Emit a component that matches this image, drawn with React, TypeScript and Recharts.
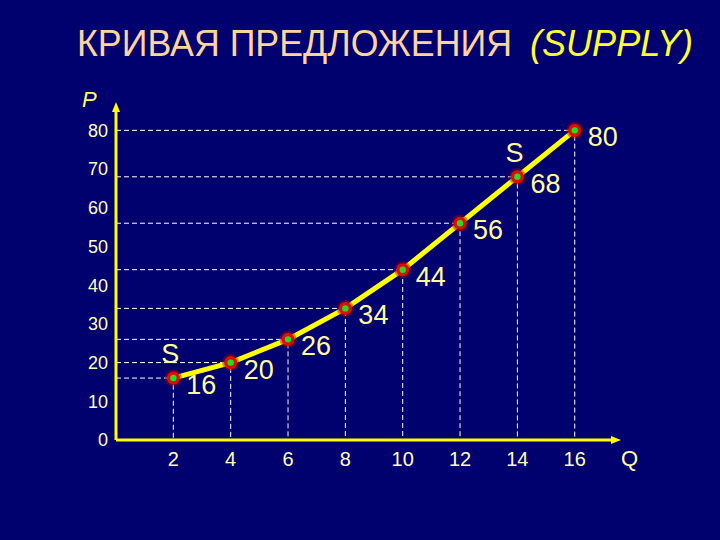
import { LineChart, Line, XAxis, YAxis, LabelList } from "recharts";

// supply schedule
const QUANTITY = [2, 4, 6, 8, 10, 12, 14, 16];
const PRICE = [16, 20, 26, 34, 44, 56, 68, 80];
const X_TICKS = [2, 4, 6, 8, 10, 12, 14, 16];
const Y_TICKS = [0, 10, 20, 30, 40, 50, 60, 70, 80];
const S_LABEL_POINTS = [0, 6];

const BG = "#00006e";
const YELLOW = "#ffff00";
const LABEL = "#ffff99";
const TICK = "#ffffc4";

const supply = QUANTITY.map((q, i) => ({ q, p: PRICE[i] }));

// dashed drop lines from every point to both axes
const guides = supply.map((d) => [
  { q: 0, p: d.p },
  { q: d.q, p: d.p },
  { q: d.q, p: 0 },
]);

const Dot = (props: any) => {
  const { cx, cy } = props;
  if (cx == null || cy == null) return null;
  return (
    <g>
      <circle cx={cx} cy={cy} r={8.5} fill="#b00000" opacity={0.45} />
      <circle cx={cx} cy={cy} r={6.5} fill="#d81000" />
      <circle cx={cx} cy={cy} r={3.2} fill="#22dd22" />
    </g>
  );
};

const ValueLabel = (props: any) => {
  const { x, y, value, index } = props;
  return (
    <g>
      <text x={x + 13} y={y + 16} fill={LABEL} fontSize={27} fontFamily="Liberation Sans, Arial, sans-serif">
        {value}
      </text>
      {S_LABEL_POINTS.includes(index) && (
        <text x={x - 3} y={y - 15} fill={LABEL} fontSize={27} textAnchor="middle" fontFamily="Liberation Sans, Arial, sans-serif">
          S
        </text>
      )}
    </g>
  );
};

export default function App() {
  return (
    <div style={{ position: "absolute", left: 0, top: 0, width: 720, height: 540, background: BG }}>
      <svg width={720} height={540} style={{ position: "absolute", left: 0, top: 0, pointerEvents: "none" }}>
        <defs>
          <marker id="arrow" viewBox="0 0 10 8" markerWidth={10} markerHeight={8} refX={1} refY={4} markerUnits="userSpaceOnUse" orient="auto-start-reverse">
            <path d="M0,0 L10,4 L0,8 z" fill={YELLOW} />
          </marker>
        </defs>
        <text x={77} y={56} fill="#ffd49e" fontSize={36} textLength={435} lengthAdjust="spacingAndGlyphs" fontFamily="Liberation Sans, Arial, sans-serif">
          КРИВАЯ ПРЕДЛОЖЕНИЯ
        </text>
        <text x={530} y={56} fill="#ffff33" fontSize={36} fontStyle="italic" textLength={163} lengthAdjust="spacingAndGlyphs" fontFamily="Liberation Sans, Arial, sans-serif">
          (SUPPLY)
        </text>
        <text x={82} y={107} fill="#ffff55" fontSize={22} fontStyle="italic" fontFamily="Liberation Sans, Arial, sans-serif">
          P
        </text>
        <text x={621} y={466} fill="#ffffaa" fontSize={22} fontFamily="Liberation Sans, Arial, sans-serif">
          Q
        </text>
      </svg>
      <LineChart width={720} height={540} margin={{ top: 111, right: 108, bottom: 70, left: 76 }} style={{ position: "absolute", left: 0, top: 0 }}>
        <XAxis
          type="number"
          dataKey="q"
          domain={[0, 17.3]}
          ticks={X_TICKS}
          allowDataOverflow
          tickSize={0}
          tickMargin={12}
          tick={{ fill: TICK, fontSize: 20, fontFamily: "Liberation Sans, Arial, sans-serif" }}
          axisLine={{ stroke: YELLOW, strokeWidth: 3, markerEnd: "url(#arrow)" }}
        />
        <YAxis
          type="number"
          dataKey="p"
          domain={[0, 85]}
          ticks={Y_TICKS}
          allowDataOverflow
          width={40}
          tickSize={0}
          tickMargin={8}
          tick={{ fill: TICK, fontSize: 18, fontFamily: "Liberation Sans, Arial, sans-serif" }}
          axisLine={{ stroke: YELLOW, strokeWidth: 3, markerStart: "url(#arrow)" }}
        />
        {guides.map((g, i) => (
          <Line
            key={`guide-${i}`}
            data={g}
            dataKey="p"
            type="linear"
            stroke="#ffffff"
            strokeWidth={1}
            strokeDasharray="5 3"
            dot={false}
            activeDot={false}
            isAnimationActive={false}
          />
        ))}
        <Line
          data={supply}
          dataKey="p"
          type="linear"
          stroke={YELLOW}
          strokeWidth={5}
          dot={<Dot />}
          activeDot={false}
          isAnimationActive={false}
        >
          <LabelList dataKey="p" content={<ValueLabel />} />
        </Line>
      </LineChart>
    </div>
  );
}
